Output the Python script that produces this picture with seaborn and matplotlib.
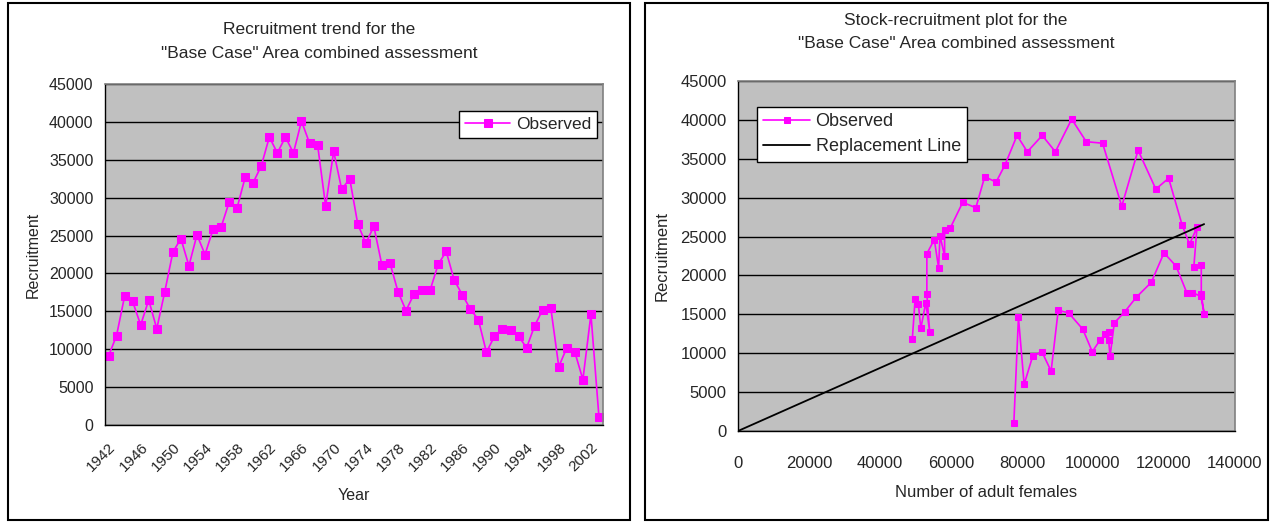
import numpy as np
import pandas as pd
import matplotlib
matplotlib.use("Agg")
import matplotlib.pyplot as plt
from matplotlib.patches import Rectangle
import seaborn as sns

# recruitment by year, 1942-2003
years = list(range(1942, 2004))
recruitment = [9100, 11800, 17000, 16300, 13200, 16500, 12700, 17600, 22800, 24600,
               21000, 25100, 22500, 25800, 26100, 29400, 28700, 32700, 32000, 34200,
               38000, 35900, 38000, 35900, 40100, 37200, 37000, 28900, 36100, 31100,
               32500, 26500, 24000, 26200, 21100, 21400, 17600, 15100, 17300, 17800,
               17800, 21200, 22900, 19100, 17200, 15300, 13900, 9600, 11700, 12700,
               12500, 11700, 10200, 13100, 15200, 15500, 7700, 10200, 9600, 6000,
               14600, 1000]

# adult females 1942-2002 (paired with recruitment of the following year)
adult_females = [49100, 49900, 50800, 51500, 52900, 54000, 53200, 53200, 55300, 56500,
                 56900, 58200, 58200, 59800, 63300, 67000, 69500, 72700, 75200, 78600,
                 81500, 85700, 89400, 94000, 98100, 102700, 108100, 112700, 117700, 121300,
                 125100, 127200, 129300, 128400, 130500, 130500, 131300, 130400, 128000, 126400,
                 123400, 120000, 116400, 112200, 108900, 106000, 104800, 104400, 104400, 103500,
                 102000, 99800, 97100, 93100, 90200, 88200, 85600, 83000, 80600, 79000,
                 77700]

repl_stock = [0, 131300]
repl_recruit = [0, 26600]

year_labels = [str(y) for y in range(1942, 2003, 4)]

trend = pd.DataFrame({"pos": np.arange(len(years)), "Recruitment": recruitment})
sr = pd.DataFrame({"Females": adult_females, "Recruitment": recruitment[1:]})
repl = pd.DataFrame({"Females": repl_stock, "Recruitment": repl_recruit})

sns.set_style("white")
plt.rcParams["font.family"] = ["Liberation Sans", "DejaVu Sans"]
plt.rcParams["font.size"] = 11.5

W, H = 1273, 524
fig = plt.figure(figsize=(W / 100, H / 100), dpi=100)
fig.patch.set_facecolor("white")

def fx(px):
    return px / W

def fy(py):
    return 1 - py / H

# chart area borders
for x0, x1 in [(8, 630), (645, 1268)]:
    fig.add_artist(Rectangle((fx(x0), fy(520)), fx(x1 - x0), (520 - 3) / H,
                             transform=fig.transFigure, fill=False,
                             edgecolor="black", lw=1.5))

magenta = "#FF00FF"
grey = "#C0C0C0"

def style_axes(ax):
    ax.set_facecolor(grey)
    for s in ["top", "right"]:
        ax.spines[s].set_color("#808080")
        ax.spines[s].set_linewidth(1.2)
    for s in ["left", "bottom"]:
        ax.spines[s].set_color("black")
        ax.spines[s].set_linewidth(1.0)
    ax.set_ylim(0, 45000)
    ax.set_yticks(range(0, 45001, 5000))
    ax.yaxis.grid(True, color="black", lw=1.0)
    ax.set_axisbelow(True)
    ax.tick_params(axis="y", direction="in", length=4, width=1, color="black",
                   labelsize=11.5, pad=8)

# ---- left: recruitment trend ----
ax1 = fig.add_axes([fx(104.5), fy(425), fx(498.5), 341 / H])
sns.lineplot(data=trend, x="pos", y="Recruitment", ax=ax1, color=magenta,
             marker="s", markersize=6, markeredgecolor=magenta, lw=1.2,
             label="Observed")
style_axes(ax1)
ax1.set_xlim(-0.5, len(years) - 0.5)
ax1.set_xticks(np.arange(0, 61, 4))
ax1.set_xticklabels(year_labels, rotation=45, ha="right", va="top",
                    rotation_mode="anchor")
ax1.set_xticks(np.arange(-0.5, len(years), 1), minor=True)
ax1.tick_params(axis="x", which="major", length=0, labelsize=11, pad=11)
ax1.tick_params(axis="x", which="minor", direction="in", length=4, width=1,
                color="black")
ax1.set_xlabel("Year", fontsize=11.5, labelpad=10)
ax1.set_ylabel("Recruitment", fontsize=11.5, labelpad=6)
ax1.legend(loc="upper right", bbox_to_anchor=(0.988, 0.921), borderaxespad=0,
           fancybox=False, framealpha=1, edgecolor="black", fontsize=12.5,
           handlelength=2.6, handletextpad=0.3, borderpad=0.35)
fig.text(fx(319), fy(30), "Recruitment trend for the", ha="center", va="center",
         fontsize=12.5)
fig.text(fx(319), fy(54), '"Base Case" Area combined assessment', ha="center",
         va="center", fontsize=12.5)

# ---- right: stock-recruitment ----
ax2 = fig.add_axes([fx(738), fy(431), fx(497), 350 / H])
sns.lineplot(data=sr, x="Females", y="Recruitment", ax=ax2, sort=False,
             estimator=None, color=magenta, marker="s", markersize=4.5,
             markeredgecolor=magenta, lw=1.2, label="Observed")
sns.lineplot(data=repl, x="Females", y="Recruitment", ax=ax2, sort=False,
             estimator=None, color="black", lw=1.3, label="Replacement Line")
style_axes(ax2)
ax2.set_xlim(0, 140000)
ax2.set_xticks(range(0, 140001, 20000))
ax2.tick_params(axis="x", direction="in", length=4, width=1, color="black",
                labelsize=12, pad=18)
ax2.tick_params(axis="y", labelsize=12)
ax2.set_xlabel("Number of adult females", fontsize=12, labelpad=10)
ax2.set_ylabel("Recruitment", fontsize=12, labelpad=8)
ax2.legend(loc="upper left", bbox_to_anchor=(0.038, 0.926), borderaxespad=0,
           fancybox=False, framealpha=1, edgecolor="black", fontsize=13,
           handlelength=2.6, handletextpad=0.3, borderpad=0.35, labelspacing=0.45)
fig.text(fx(956), fy(20), "Stock-recruitment plot for the", ha="center",
         va="center", fontsize=12.5)
fig.text(fx(956), fy(44), '"Base Case" Area combined assessment', ha="center",
         va="center", fontsize=12.5)

fig.savefig("out.png", dpi=100, facecolor="white")
